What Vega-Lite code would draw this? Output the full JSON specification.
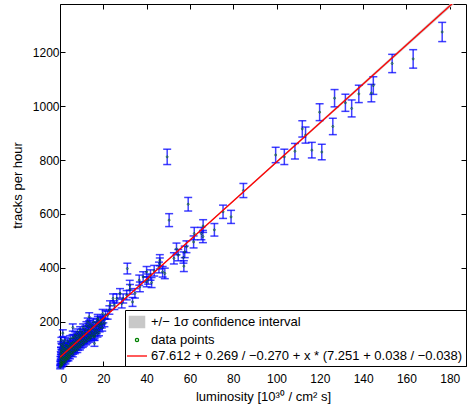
{
  "$schema": "https://vega.github.io/schema/vega-lite/v6.json",
  "width": 406,
  "height": 362,
  "autosize": "none",
  "padding": {"left": 60, "top": 4, "right": 2, "bottom": 49},
  "background": "white",
  "config": {
    "view": {"stroke": null},
    "axis": {
      "domainColor": "black",
      "domainWidth": 1,
      "tickColor": "black",
      "tickSize": -5,
      "labelFont": "Liberation Sans",
      "labelFontSize": 12,
      "labelColor": "black",
      "titleFont": "Liberation Sans",
      "titleFontSize": 13,
      "titleFontWeight": "normal",
      "titleColor": "black",
      "grid": false,
      "labelPadding": 6
    },
    "legend": {
      "labelFont": "Liberation Sans",
      "labelFontSize": 13,
      "labelColor": "black",
      "labelLimit": 600
    }
  },
  "datasets": {
    "pts": [
      {"x": 176.5, "y": 1276, "e": 35.7},
      {"x": 163.1, "y": 1176, "e": 34.3},
      {"x": 153.4, "y": 1159, "e": 34.0},
      {"x": 144.7, "y": 1077, "e": 32.8},
      {"x": 143.8, "y": 1049, "e": 32.4},
      {"x": 138.0, "y": 1046, "e": 32.3},
      {"x": 131.8, "y": 1013, "e": 31.8},
      {"x": 134.7, "y": 992, "e": 31.5},
      {"x": 126.8, "y": 1030, "e": 32.1},
      {"x": 119.9, "y": 978, "e": 31.3},
      {"x": 126.0, "y": 925, "e": 30.4},
      {"x": 111.9, "y": 916, "e": 30.3},
      {"x": 113.4, "y": 893, "e": 29.9},
      {"x": 99.6, "y": 819, "e": 28.6},
      {"x": 103.6, "y": 812, "e": 28.5},
      {"x": 108.5, "y": 833, "e": 28.9},
      {"x": 116.3, "y": 837, "e": 28.9},
      {"x": 120.9, "y": 830, "e": 28.8},
      {"x": 49.5, "y": 812, "e": 28.5},
      {"x": 59.2, "y": 636, "e": 25.2},
      {"x": 50.4, "y": 577, "e": 24.0},
      {"x": 84.7, "y": 687, "e": 26.2},
      {"x": 75.3, "y": 608, "e": 24.7},
      {"x": 79.0, "y": 589, "e": 24.3},
      {"x": 71.3, "y": 541, "e": 23.3},
      {"x": 66.1, "y": 555, "e": 23.6},
      {"x": 65.3, "y": 527, "e": 23.0},
      {"x": 66.0, "y": 516, "e": 22.7},
      {"x": 62.0, "y": 527, "e": 23.0},
      {"x": 61.7, "y": 496, "e": 22.3},
      {"x": 58.4, "y": 478, "e": 21.9},
      {"x": 57.6, "y": 459, "e": 21.4},
      {"x": 53.8, "y": 470, "e": 21.7},
      {"x": 54.6, "y": 447, "e": 21.1},
      {"x": 57.0, "y": 438, "e": 20.9},
      {"x": 57.2, "y": 406, "e": 20.1},
      {"x": 52.6, "y": 435, "e": 20.9},
      {"x": 46.1, "y": 428, "e": 20.7},
      {"x": 46.1, "y": 416, "e": 20.4},
      {"x": 48.4, "y": 379, "e": 19.5},
      {"x": 47.4, "y": 385, "e": 19.6},
      {"x": 45.7, "y": 401, "e": 20.0},
      {"x": 43.5, "y": 389, "e": 19.7},
      {"x": 41.8, "y": 373, "e": 19.3},
      {"x": 40.0, "y": 385, "e": 19.6},
      {"x": 38.4, "y": 366, "e": 19.1},
      {"x": 40.7, "y": 358, "e": 18.9},
      {"x": 36.6, "y": 354, "e": 18.8},
      {"x": 42.3, "y": 345, "e": 18.6},
      {"x": 36.9, "y": 329, "e": 18.1},
      {"x": 40.0, "y": 348, "e": 18.7},
      {"x": 31.1, "y": 397, "e": 19.9},
      {"x": 32.3, "y": 320, "e": 17.9},
      {"x": 34.6, "y": 305, "e": 17.5},
      {"x": 30.8, "y": 298, "e": 17.3},
      {"x": 29.2, "y": 286, "e": 16.9},
      {"x": 33.5, "y": 273, "e": 16.5},
      {"x": 28.5, "y": 267, "e": 16.3},
      {"x": 27.7, "y": 305, "e": 17.5},
      {"x": 26.2, "y": 286, "e": 16.9},
      {"x": 23.1, "y": 261, "e": 16.2},
      {"x": 22.8, "y": 243, "e": 15.6},
      {"x": 25.1, "y": 261, "e": 16.2},
      {"x": 19.7, "y": 230, "e": 15.2},
      {"x": 22.0, "y": 224, "e": 15.0},
      {"x": 17.4, "y": 212, "e": 14.6},
      {"x": 13.5, "y": 218, "e": 14.8},
      {"x": 12.8, "y": 199, "e": 14.1},
      {"x": 15.9, "y": 143, "e": 12.0},
      {"x": 15.9, "y": 119, "e": 10.9},
      {"x": 5.9, "y": 178, "e": 13.3},
      {"x": 1.3, "y": 157, "e": 12.5},
      {"x": 24.5, "y": 286, "e": 16.9},
      {"x": 32.2, "y": 335, "e": 18.3},
      {"x": 0.2, "y": 35, "e": 5.9},
      {"x": 0.3, "y": 52, "e": 7.2},
      {"x": 0.4, "y": 70, "e": 8.4},
      {"x": 0.5, "y": 44, "e": 6.6},
      {"x": 0.6, "y": 88, "e": 9.4},
      {"x": 0.7, "y": 60, "e": 7.7},
      {"x": 0.8, "y": 38, "e": 6.2},
      {"x": 0.9, "y": 105, "e": 10.2},
      {"x": 1.0, "y": 75, "e": 8.7},
      {"x": 1.2, "y": 48, "e": 6.9},
      {"x": 1.4, "y": 92, "e": 9.6},
      {"x": 1.5, "y": 62, "e": 7.9},
      {"x": 1.7, "y": 120, "e": 11.0},
      {"x": 1.9, "y": 55, "e": 7.4},
      {"x": 2.0, "y": 82, "e": 9.1},
      {"x": 2.2, "y": 100, "e": 10.0},
      {"x": 2.4, "y": 68, "e": 8.2},
      {"x": 2.6, "y": 58, "e": 7.6},
      {"x": 2.8, "y": 112, "e": 10.6},
      {"x": 3.0, "y": 78, "e": 8.8},
      {"x": 3.2, "y": 95, "e": 9.7},
      {"x": 3.4, "y": 64, "e": 8.0},
      {"x": 3.6, "y": 125, "e": 11.2},
      {"x": 3.8, "y": 86, "e": 9.3},
      {"x": 4.0, "y": 72, "e": 8.5},
      {"x": 4.2, "y": 108, "e": 10.4},
      {"x": 4.5, "y": 90, "e": 9.5},
      {"x": 4.7, "y": 136, "e": 11.7},
      {"x": 5.0, "y": 80, "e": 8.9},
      {"x": 5.2, "y": 115, "e": 10.7},
      {"x": 5.5, "y": 98, "e": 9.9},
      {"x": 5.8, "y": 140, "e": 11.8},
      {"x": 6.0, "y": 88, "e": 9.4},
      {"x": 6.3, "y": 125, "e": 11.2},
      {"x": 6.6, "y": 106, "e": 10.3},
      {"x": 7.0, "y": 150, "e": 12.2},
      {"x": 7.2, "y": 95, "e": 9.7},
      {"x": 7.5, "y": 132, "e": 11.5},
      {"x": 7.8, "y": 115, "e": 10.7},
      {"x": 8.1, "y": 160, "e": 12.6},
      {"x": 8.4, "y": 104, "e": 10.2},
      {"x": 8.7, "y": 140, "e": 11.8},
      {"x": 9.0, "y": 122, "e": 11.0},
      {"x": 9.3, "y": 168, "e": 13.0},
      {"x": 9.6, "y": 112, "e": 10.6},
      {"x": 10.0, "y": 150, "e": 12.2},
      {"x": 10.3, "y": 130, "e": 11.4},
      {"x": 10.7, "y": 178, "e": 13.3},
      {"x": 11.0, "y": 120, "e": 11.0},
      {"x": 11.4, "y": 158, "e": 12.6},
      {"x": 11.8, "y": 138, "e": 11.7},
      {"x": 12.2, "y": 186, "e": 13.6},
      {"x": 12.6, "y": 130, "e": 11.4},
      {"x": 13.0, "y": 168, "e": 13.0},
      {"x": 13.4, "y": 148, "e": 12.2},
      {"x": 13.8, "y": 192, "e": 13.9},
      {"x": 14.2, "y": 140, "e": 11.8},
      {"x": 14.6, "y": 175, "e": 13.2},
      {"x": 15.0, "y": 158, "e": 12.6},
      {"x": 15.5, "y": 198, "e": 14.1},
      {"x": 16.0, "y": 150, "e": 12.2},
      {"x": 16.5, "y": 182, "e": 13.5},
      {"x": 17.0, "y": 168, "e": 13.0},
      {"x": 17.5, "y": 205, "e": 14.3},
      {"x": 18.0, "y": 160, "e": 12.6},
      {"x": 18.5, "y": 190, "e": 13.8},
      {"x": 19.0, "y": 200, "e": 14.1},
      {"x": 19.5, "y": 178, "e": 13.3},
      {"x": 0.1, "y": 30, "e": 5.5},
      {"x": 0.15, "y": 45, "e": 6.7},
      {"x": 0.25, "y": 62, "e": 7.9},
      {"x": 0.35, "y": 80, "e": 8.9},
      {"x": 0.45, "y": 95, "e": 9.7},
      {"x": 0.55, "y": 115, "e": 10.7},
      {"x": 0.65, "y": 130, "e": 11.4},
      {"x": 0.75, "y": 50, "e": 7.1},
      {"x": 0.85, "y": 40, "e": 6.3},
      {"x": 0.95, "y": 68, "e": 8.2},
      {"x": 1.1, "y": 85, "e": 9.2},
      {"x": 1.3, "y": 110, "e": 10.5},
      {"x": 1.6, "y": 45, "e": 6.7},
      {"x": 1.8, "y": 100, "e": 10.0},
      {"x": 2.1, "y": 65, "e": 8.1},
      {"x": 2.3, "y": 130, "e": 11.4},
      {"x": 2.5, "y": 50, "e": 7.1},
      {"x": 2.7, "y": 90, "e": 9.5},
      {"x": 2.9, "y": 70, "e": 8.4},
      {"x": 3.1, "y": 60, "e": 7.7},
      {"x": 3.3, "y": 110, "e": 10.5},
      {"x": 3.5, "y": 75, "e": 8.7},
      {"x": 3.7, "y": 100, "e": 10.0},
      {"x": 3.9, "y": 62, "e": 7.9},
      {"x": 4.1, "y": 95, "e": 9.7},
      {"x": 4.3, "y": 80, "e": 8.9},
      {"x": 4.6, "y": 70, "e": 8.4},
      {"x": 4.8, "y": 118, "e": 10.9},
      {"x": 5.1, "y": 105, "e": 10.2},
      {"x": 5.4, "y": 85, "e": 9.2},
      {"x": 5.7, "y": 120, "e": 11.0},
      {"x": 5.9, "y": 78, "e": 8.8},
      {"x": 6.2, "y": 100, "e": 10.0},
      {"x": 6.5, "y": 140, "e": 11.8},
      {"x": 6.8, "y": 90, "e": 9.5},
      {"x": 7.1, "y": 120, "e": 11.0},
      {"x": 7.4, "y": 105, "e": 10.2},
      {"x": 7.7, "y": 145, "e": 12.0},
      {"x": 8.0, "y": 95, "e": 9.7},
      {"x": 8.3, "y": 130, "e": 11.4},
      {"x": 8.6, "y": 115, "e": 10.7},
      {"x": 8.9, "y": 150, "e": 12.2},
      {"x": 9.2, "y": 105, "e": 10.2},
      {"x": 9.5, "y": 140, "e": 11.8},
      {"x": 9.8, "y": 125, "e": 11.2},
      {"x": 10.2, "y": 160, "e": 12.6},
      {"x": 10.5, "y": 115, "e": 10.7},
      {"x": 10.9, "y": 145, "e": 12.0},
      {"x": 11.2, "y": 130, "e": 11.4},
      {"x": 11.6, "y": 170, "e": 13.0},
      {"x": 12.0, "y": 125, "e": 11.2},
      {"x": 12.4, "y": 155, "e": 12.4},
      {"x": 12.8, "y": 140, "e": 11.8},
      {"x": 13.2, "y": 180, "e": 13.4},
      {"x": 13.6, "y": 135, "e": 11.6},
      {"x": 14.0, "y": 165, "e": 12.8},
      {"x": 14.4, "y": 150, "e": 12.2},
      {"x": 14.8, "y": 185, "e": 13.6},
      {"x": 15.3, "y": 145, "e": 12.0},
      {"x": 15.8, "y": 170, "e": 13.0},
      {"x": 16.3, "y": 160, "e": 12.6},
      {"x": 16.8, "y": 195, "e": 14.0},
      {"x": 17.3, "y": 155, "e": 12.4},
      {"x": 17.8, "y": 185, "e": 13.6},
      {"x": 18.3, "y": 175, "e": 13.2},
      {"x": 18.8, "y": 205, "e": 14.3},
      {"x": 19.3, "y": 190, "e": 13.8},
      {"x": 20.0, "y": 210, "e": 14.5},
      {"x": 20.5, "y": 195, "e": 14.0},
      {"x": 21.0, "y": 225, "e": 15.0}
    ],
    "fit": [
      {"x": 0, "y": 67.612, "lo": 67.342, "hi": 67.881},
      {"x": 190, "y": 1445.3, "lo": 1437.8, "hi": 1452.8}
    ],
    "leg": [
      {"label": "+/− 1σ confidence interval"},
      {"label": "data points"},
      {"label": "67.612 + 0.269 / −0.270 + x * (7.251 + 0.038 / −0.038)"}
    ]
  },
  "resolve": {"axis": {"x": "independent", "y": "independent"}},
  "layer": [
    {
      "data": {"name": "fit"},
      "mark": {"type": "area", "color": "#c8c8c8", "clip": true},
      "encoding": {
        "x": {"field": "x", "type": "quantitative", "scale": {"domain": [0, 187.5], "nice": false, "zero": false},
          "axis": {"orient": "bottom", "values": [0, 20, 40, 60, 80, 100, 120, 140, 160, 180], "labelPadding": 12, "title": "luminosity  [10³⁰ / cm² s]", "titlePadding": 6}},
        "y": {"field": "lo", "type": "quantitative", "scale": {"domain": [35, 1380], "nice": false, "zero": false},
          "axis": {"orient": "left", "values": [200, 400, 600, 800, 1000, 1200], "format": "d", "title": "tracks per hour", "titlePadding": 8}},
        "y2": {"field": "hi"}
      }
    },
    {
      "data": {"name": "pts"},
      "mark": {"type": "errorbar", "ticks": {"size": 8, "thickness": 1.5, "color": "#0000ff", "opacity": 0.75}, "rule": {"strokeWidth": 1.5, "color": "#0000ff", "opacity": 0.75}},
      "encoding": {
        "x": {"field": "x", "type": "quantitative", "axis": null},
        "y": {"field": "y", "type": "quantitative", "axis": null},
        "yError": {"field": "e"}
      }
    },
    {
      "data": {"name": "pts"},
      "mark": {"type": "point", "filled": false, "size": 4, "strokeWidth": 1, "color": "#006400"},
      "encoding": {
        "x": {"field": "x", "type": "quantitative", "axis": null},
        "y": {"field": "y", "type": "quantitative", "axis": null}
      }
    },
    {
      "data": {"name": "fit"},
      "mark": {"type": "line", "color": "#ff0000", "strokeWidth": 1.3, "clip": true},
      "encoding": {
        "x": {"field": "x", "type": "quantitative",
          "axis": {"orient": "top", "values": [0, 20, 40, 60, 80, 100, 120, 140, 160, 180], "labels": false, "title": null}},
        "y": {"field": "y", "type": "quantitative",
          "axis": {"orient": "right", "values": [200, 400, 600, 800, 1000, 1200], "labels": false, "title": null}}
      }
    },
    {
      "data": {"name": "leg"},
      "mark": {"type": "point", "filled": true, "opacity": 0},
      "encoding": {
        "fill": {"field": "label", "type": "nominal",
          "scale": {"domain": ["+/− 1σ confidence interval", "data points", "67.612 + 0.269 / −0.270 + x * (7.251 + 0.038 / −0.038)"], "range": ["#c8c8c8", "#ffffff", "#ff0000"]},
          "legend": {"orient": "bottom-right", "offset": 0, "title": null, "strokeColor": "black", "fillColor": "white", "padding": 3, "rowPadding": 0, "symbolSize": 256, "symbolOpacity": 1, "symbolStrokeWidth": 1.3, "labelOffset": 5}},
        "stroke": {"field": "label", "type": "nominal",
          "scale": {"domain": ["+/− 1σ confidence interval", "data points", "67.612 + 0.269 / −0.270 + x * (7.251 + 0.038 / −0.038)"], "range": ["#c8c8c8", "#008000", "#ff0000"]},
          "legend": {"orient": "bottom-right", "offset": 0, "title": null, "strokeColor": "black", "fillColor": "white", "padding": 3, "rowPadding": 0, "symbolSize": 256, "symbolOpacity": 1, "symbolStrokeWidth": 1.3, "labelOffset": 5}},
        "shape": {"field": "label", "type": "nominal",
          "scale": {"domain": ["+/− 1σ confidence interval", "data points", "67.612 + 0.269 / −0.270 + x * (7.251 + 0.038 / −0.038)"], "range": ["M-0.95,-0.7H0.95V0.7H-0.95Z", "M-0.2,0A0.2,0.2 0 1,0 0.2,0A0.2,0.2 0 1,0 -0.2,0Z", "M-1.25,0H1.25"]},
          "legend": {"orient": "bottom-right", "offset": 0, "title": null, "strokeColor": "black", "fillColor": "white", "padding": 3, "rowPadding": 0, "symbolSize": 256, "symbolOpacity": 1, "symbolStrokeWidth": 1.3, "labelOffset": 5}}
      }
    }
  ]
}
